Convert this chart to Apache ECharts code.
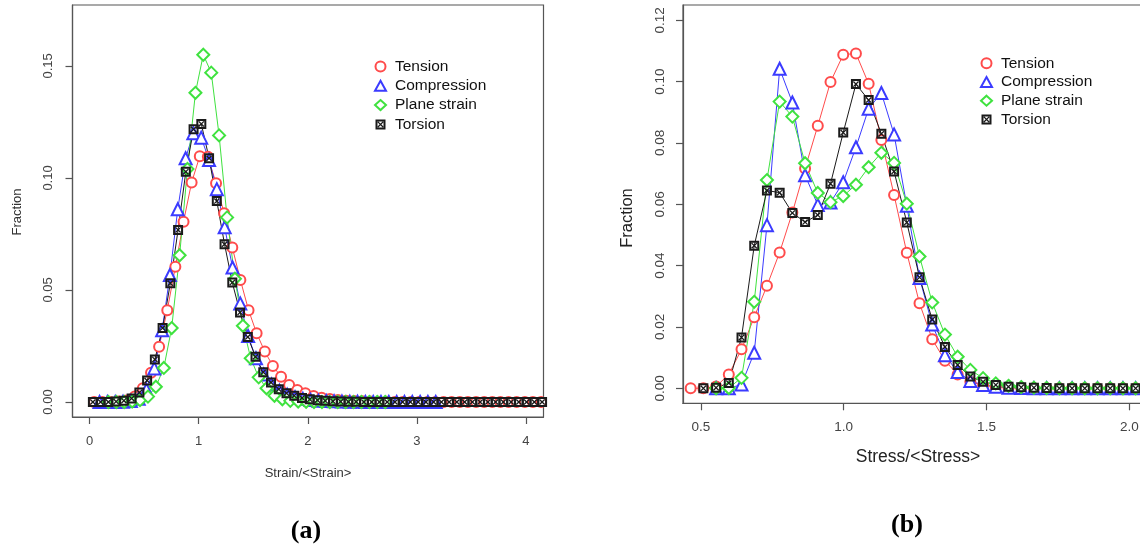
<!DOCTYPE html>
<html>
<head>
<meta charset="utf-8">
<script src="https://cdn.jsdelivr.net/npm/echarts@6/dist/echarts.min.js"></script>
<style>
  html, body { margin: 0; padding: 0; background: #fff; }
  #chart { width: 1140px; height: 550px; }
</style>
</head>
<body>
<div id="chart"></div>
<script>
// ---------- (a) Strain/<Strain> distributions ----------
const strainTensionX = [
  0.041, 0.116, 0.190, 0.265, 0.339, 0.414, 0.488, 0.563, 0.637, 0.712,
  0.786, 0.861, 0.935, 1.010, 1.084, 1.159, 1.233, 1.308, 1.382, 1.457,
  1.531, 1.606, 1.680, 1.755, 1.829, 1.904, 1.978, 2.053, 2.127, 2.202,
  2.276, 2.351, 2.425, 2.500, 2.574, 2.649, 2.723, 2.798, 2.872, 2.947,
  3.021, 3.096, 3.170, 3.245, 3.319, 3.394, 3.468, 3.543, 3.617, 3.692,
  3.766, 3.841, 3.915, 3.990, 4.064, 4.139
];
const strainTensionY = [
  0, 0, 0, 0.0002, 0.0007, 0.0024, 0.0061, 0.0131, 0.0247, 0.041,
  0.0604, 0.0805, 0.098, 0.1097, 0.1095, 0.0976, 0.0842, 0.069, 0.0545, 0.041,
  0.0307, 0.0225, 0.0161, 0.0113, 0.0076, 0.0054, 0.0039, 0.0027, 0.0019, 0.0013,
  0.0009, 0.0006, 0.0004, 0.0003, 0.0002, 0.0001, 0.0001, 0, 0, 0,
  0, 0, 0, 0, 0, 0, 0, 0, 0, 0,
  0, 0, 0, 0, 0, 0
];
const strainCompressionX = [
  0.091, 0.163, 0.235, 0.306, 0.378, 0.450, 0.521, 0.593, 0.665, 0.736,
  0.808, 0.880, 0.951, 1.023, 1.095, 1.166, 1.238, 1.310, 1.381, 1.453,
  1.525, 1.596, 1.668, 1.740, 1.811, 1.883, 1.955, 2.026, 2.098, 2.170,
  2.241, 2.313, 2.385, 2.456, 2.528, 2.600, 2.671, 2.743, 2.815, 2.886,
  2.958, 3.030, 3.101, 3.173
];
const strainCompressionY = [
  0, 0, 0, 0.0001, 0.0004, 0.0015, 0.0055, 0.015, 0.032, 0.0567,
  0.086, 0.1088, 0.120, 0.118, 0.108, 0.095, 0.078, 0.060, 0.044, 0.0295,
  0.0195, 0.0123, 0.0078, 0.0050, 0.0032, 0.0021, 0.0014, 0.0009, 0.0006, 0.0004,
  0.0003, 0.0002, 0.0001, 0.0001, 0, 0, 0, 0, 0, 0,
  0, 0, 0, 0
];
const strainPlaneX = [
  0.172, 0.245, 0.317, 0.390, 0.462, 0.535, 0.607, 0.680, 0.752, 0.825,
  0.897, 0.970, 1.042, 1.115, 1.187, 1.260, 1.332, 1.405, 1.477, 1.550,
  1.622, 1.695, 1.767, 1.840, 1.912, 1.985, 2.057, 2.130, 2.202, 2.275,
  2.347, 2.420, 2.492, 2.565, 2.637, 2.710
];
const strainPlaneY = [
  0, 0, 0, 0.0002, 0.0008, 0.0024, 0.0068, 0.0152, 0.033, 0.0655,
  0.104, 0.138, 0.155, 0.147, 0.119, 0.0824, 0.055, 0.034, 0.0195, 0.011,
  0.0061, 0.0028, 0.0012, 0.0005, 0.0002, 0.0001, 0, 0, 0, 0,
  0, 0, 0, 0, 0, 0
];
const strainTorsionX = [
  0.030, 0.101, 0.172, 0.243, 0.314, 0.385, 0.456, 0.527, 0.598, 0.669,
  0.740, 0.811, 0.882, 0.953, 1.024, 1.095, 1.166, 1.237, 1.308, 1.379,
  1.450, 1.521, 1.592, 1.663, 1.734, 1.805, 1.876, 1.947, 2.018, 2.089,
  2.160, 2.231, 2.302, 2.373, 2.444, 2.515, 2.586, 2.657, 2.728, 2.799,
  2.870, 2.941, 3.012, 3.083, 3.154, 3.225, 3.296, 3.367, 3.438, 3.509,
  3.580, 3.651, 3.722, 3.793, 3.864, 3.935, 4.006, 4.077, 4.148
];
const strainTorsionY = [
  0, 0, 0, 0.0002, 0.0006, 0.0016, 0.0042, 0.0096, 0.019, 0.033,
  0.053, 0.0768, 0.1028, 0.1217, 0.1241, 0.1088, 0.0897, 0.0704, 0.0533, 0.040,
  0.029, 0.0202, 0.0133, 0.0087, 0.0057, 0.0039, 0.0028, 0.0018, 0.0012, 0.0008,
  0.0005, 0.0003, 0.0002, 0.0001, 0.0001, 0, 0, 0, 0, 0,
  0, 0, 0, 0, 0, 0, 0, 0, 0, 0,
  0, 0, 0, 0, 0, 0, 0, 0, 0
];

// ---------- (b) Stress/<Stress> distributions ----------
const stressX = [
  0.4645, 0.509, 0.5535, 0.598, 0.6425, 0.687, 0.7315, 0.776, 0.8205, 0.865,
  0.9095, 0.954, 0.9985, 1.043, 1.0875, 1.132, 1.1765, 1.221, 1.2655, 1.310,
  1.3545, 1.399, 1.4435, 1.488, 1.5325, 1.577, 1.6215, 1.666, 1.7105, 1.755,
  1.7995, 1.844, 1.8885, 1.933, 1.9775, 2.022, 2.0665, 2.111
];
// tension starts at stressX[0], torsion at stressX[1], the others at stressX[2]
const stressTensionY = [
  0, 0, 0.0006, 0.0045, 0.0127, 0.0232, 0.0334, 0.0443, 0.0573, 0.0717,
  0.0856, 0.0999, 0.1088, 0.1092, 0.0993, 0.081, 0.0630, 0.0442, 0.0277, 0.0160,
  0.0090, 0.0045, 0.0021, 0.0010, 0.0005, 0.0002, 0.0001, 0, 0, 0,
  0, 0, 0, 0, 0, 0, 0, 0
];
const stressTorsionY = [
  0, 0.0002, 0.0017, 0.0166, 0.0465, 0.0645, 0.0638, 0.0572, 0.0542,
  0.0565, 0.0667, 0.0834, 0.0992, 0.0940, 0.0830, 0.0707, 0.0541, 0.0362, 0.0224,
  0.0135, 0.0076, 0.0038, 0.0021, 0.0011, 0.0005, 0.0003, 0.0002, 0.0001, 0,
  0, 0, 0, 0, 0, 0, 0, 0
];
const stressCompressionY = [
  0, 0, 0.0012, 0.0116, 0.0532, 0.1042, 0.0932, 0.0695, 0.0598, 0.0606,
  0.0672, 0.0786, 0.0912, 0.0963, 0.0828, 0.0595, 0.036, 0.0208, 0.0108, 0.0053,
  0.0024, 0.0011, 0.0005, 0.0002, 0.0001, 0, 0, 0, 0, 0,
  0, 0, 0, 0, 0, 0
];
const stressPlaneY = [
  0, 0.0001, 0.0034, 0.0282, 0.0679, 0.0935, 0.0886, 0.0734, 0.0637, 0.0607,
  0.0627, 0.0664, 0.0721, 0.0768, 0.0735, 0.0602, 0.0430, 0.0280, 0.0175, 0.0103,
  0.0060, 0.0033, 0.0016, 0.0008, 0.0004, 0.0002, 0.0001, 0, 0, 0,
  0, 0, 0, 0, 0, 0
];

// ---------- tick labels ----------
const strainTicks = [0, 1, 2, 3, 4];
const fractionTicksA = [0, 0.05, 0.10, 0.15];
const stressTicks = [0.5, 1.0, 1.5, 2.0];
const fractionTicksB = [0, 0.02, 0.04, 0.06, 0.08, 0.10, 0.12];

const seriesNames = ['Tension', 'Compression', 'Plane strain', 'Torsion'];

// ---------- styling ----------
const FONT = "'Liberation Sans', Arial, Helvetica, sans-serif";
const AXIS_COLOR = '#555';
const LABEL_COLOR = '#444';
// square with a cross inside (outer ring + two diagonal strips)
const crossSquare = 'path://M0,0L10,0L10,10L0,10Z M2,2L2,8L8,8L8,2Z M2,2.9L2.9,2L8,7.1L7.1,8Z M2.9,8L2,7.1L7.1,2L8,2.9Z';
const looks = {
  'Tension':      { color: '#ff4b4b', symbol: 'emptyCircle',   size: 10, border: 1.3 },
  'Compression':  { color: '#3b3bff', symbol: 'emptyTriangle', size: 12, border: 1.3 },
  'Plane strain': { color: '#3fe23f', symbol: 'emptyDiamond',  size: 12, border: 1.3 },
  'Torsion':      { color: '#1a1a1a', symbol: crossSquare,     size: 10, border: 0 }
};

const pairs = (xs, ys) => ys.map((y, i) => [xs[i], y]);

function lineSeries(name, axis, xs, ys) {
  const s = looks[name];
  return {
    type: 'line', name,
    xAxisIndex: axis, yAxisIndex: axis,
    data: pairs(xs, ys),
    symbol: s.symbol, symbolSize: s.size, showAllSymbol: true,
    lineStyle: { color: s.color, width: 1 },
    itemStyle: { color: s.color, borderWidth: s.border },
    emphasis: { disabled: true },
    animation: false
  };
}

function xAxisCfg(grid, min, max, ticks, fmt, margin, fs) {
  return {
    gridIndex: grid, type: 'value', min, max,
    axisLine: { show: true, onZero: false, lineStyle: { color: AXIS_COLOR, width: 1.2 } },
    axisTick: { show: true, length: 7, customValues: ticks, lineStyle: { color: AXIS_COLOR, width: 1.2 } },
    axisLabel: { customValues: ticks, formatter: fmt, margin, fontSize: fs, color: LABEL_COLOR, fontFamily: FONT },
    splitLine: { show: false }
  };
}
function yAxisCfg(grid, min, max, ticks, margin, fs) {
  return {
    gridIndex: grid, type: 'value', min, max,
    axisLine: { show: true, onZero: false, lineStyle: { color: AXIS_COLOR, width: 1.2 } },
    axisTick: { show: true, length: 7, customValues: ticks, lineStyle: { color: AXIS_COLOR, width: 1.2 } },
    axisLabel: { customValues: ticks, formatter: v => v.toFixed(2), rotate: 90, margin, fontSize: fs, color: LABEL_COLOR, fontFamily: FONT },
    splitLine: { show: false }
  };
}

const legendData = seriesNames.map(n => ({ name: n, icon: looks[n].symbol }));
function legendCfg(left, top, gap) {
  return {
    left, top, orient: 'vertical', padding: 0,
    itemWidth: 11, itemHeight: 10, itemGap: gap,
    selectedMode: false,
    textStyle: { fontSize: 15.5, lineHeight: 16, color: '#111', fontFamily: FONT, padding: [0, 0, 0, 4] },
    data: legendData
  };
}

function label(text, x, y, size, opts) {
  opts = opts || {};
  return {
    type: 'text', x, y, rotation: opts.rotate ? Math.PI / 2 : 0, silent: true,
    style: {
      text, fill: opts.color || '#222', align: 'center', verticalAlign: 'middle',
      fontSize: size, fontFamily: opts.family || FONT, fontWeight: opts.weight || 'normal'
    }
  };
}

const option = {
  backgroundColor: '#fff',
  animation: false,
  grid: [
    { left: 72.5, top: 5, width: 471, height: 412, show: true, borderColor: AXIS_COLOR, borderWidth: 1.2, outerBoundsMode: 'none' },
    { left: 683, top: 5, width: 503.5, height: 398.3, show: true, borderColor: AXIS_COLOR, borderWidth: 1.2, outerBoundsMode: 'none' }
  ],
  xAxis: [
    xAxisCfg(0, -0.157, 4.161, strainTicks, v => String(v), 18, 13),
    xAxisCfg(1, 0.4377, 2.2, stressTicks, v => v.toFixed(1), 16.5, 13.5)
  ],
  yAxis: [
    yAxisCfg(0, -0.0067, 0.1772, fractionTicksA, 18, 13),
    yAxisCfg(1, -0.0049, 0.125, fractionTicksB, 16, 13.5)
  ],
  legend: [legendCfg(374, 58.5, 3.3), legendCfg(980, 55.3, 2.7)],
  series: [
    lineSeries('Tension', 0, strainTensionX, strainTensionY),
    lineSeries('Compression', 0, strainCompressionX, strainCompressionY),
    lineSeries('Plane strain', 0, strainPlaneX, strainPlaneY),
    lineSeries('Torsion', 0, strainTorsionX, strainTorsionY),
    lineSeries('Tension', 1, stressX, stressTensionY),
    lineSeries('Compression', 1, stressX.slice(2), stressCompressionY),
    lineSeries('Plane strain', 1, stressX.slice(2), stressPlaneY),
    lineSeries('Torsion', 1, stressX.slice(1), stressTorsionY)
  ],
  graphic: [
    label('Fraction', 17, 212, 13, { rotate: true, color: '#333' }),
    label('Strain/<Strain>', 308, 473, 13, { color: '#333' }),
    label('Fraction', 627, 218, 16.5, { rotate: true }),
    label('Stress/<Stress>', 918, 457, 17.5),
    label('(a)', 306, 531, 26, { family: "'Liberation Serif', 'Times New Roman', serif", weight: 'bold', color: '#000' }),
    label('(b)', 907, 525, 26, { family: "'Liberation Serif', 'Times New Roman', serif", weight: 'bold', color: '#000' })
  ]
};

const chart = echarts.init(document.getElementById('chart'), null, { renderer: 'canvas' });
chart.setOption(option);
</script>
</body>
</html>
